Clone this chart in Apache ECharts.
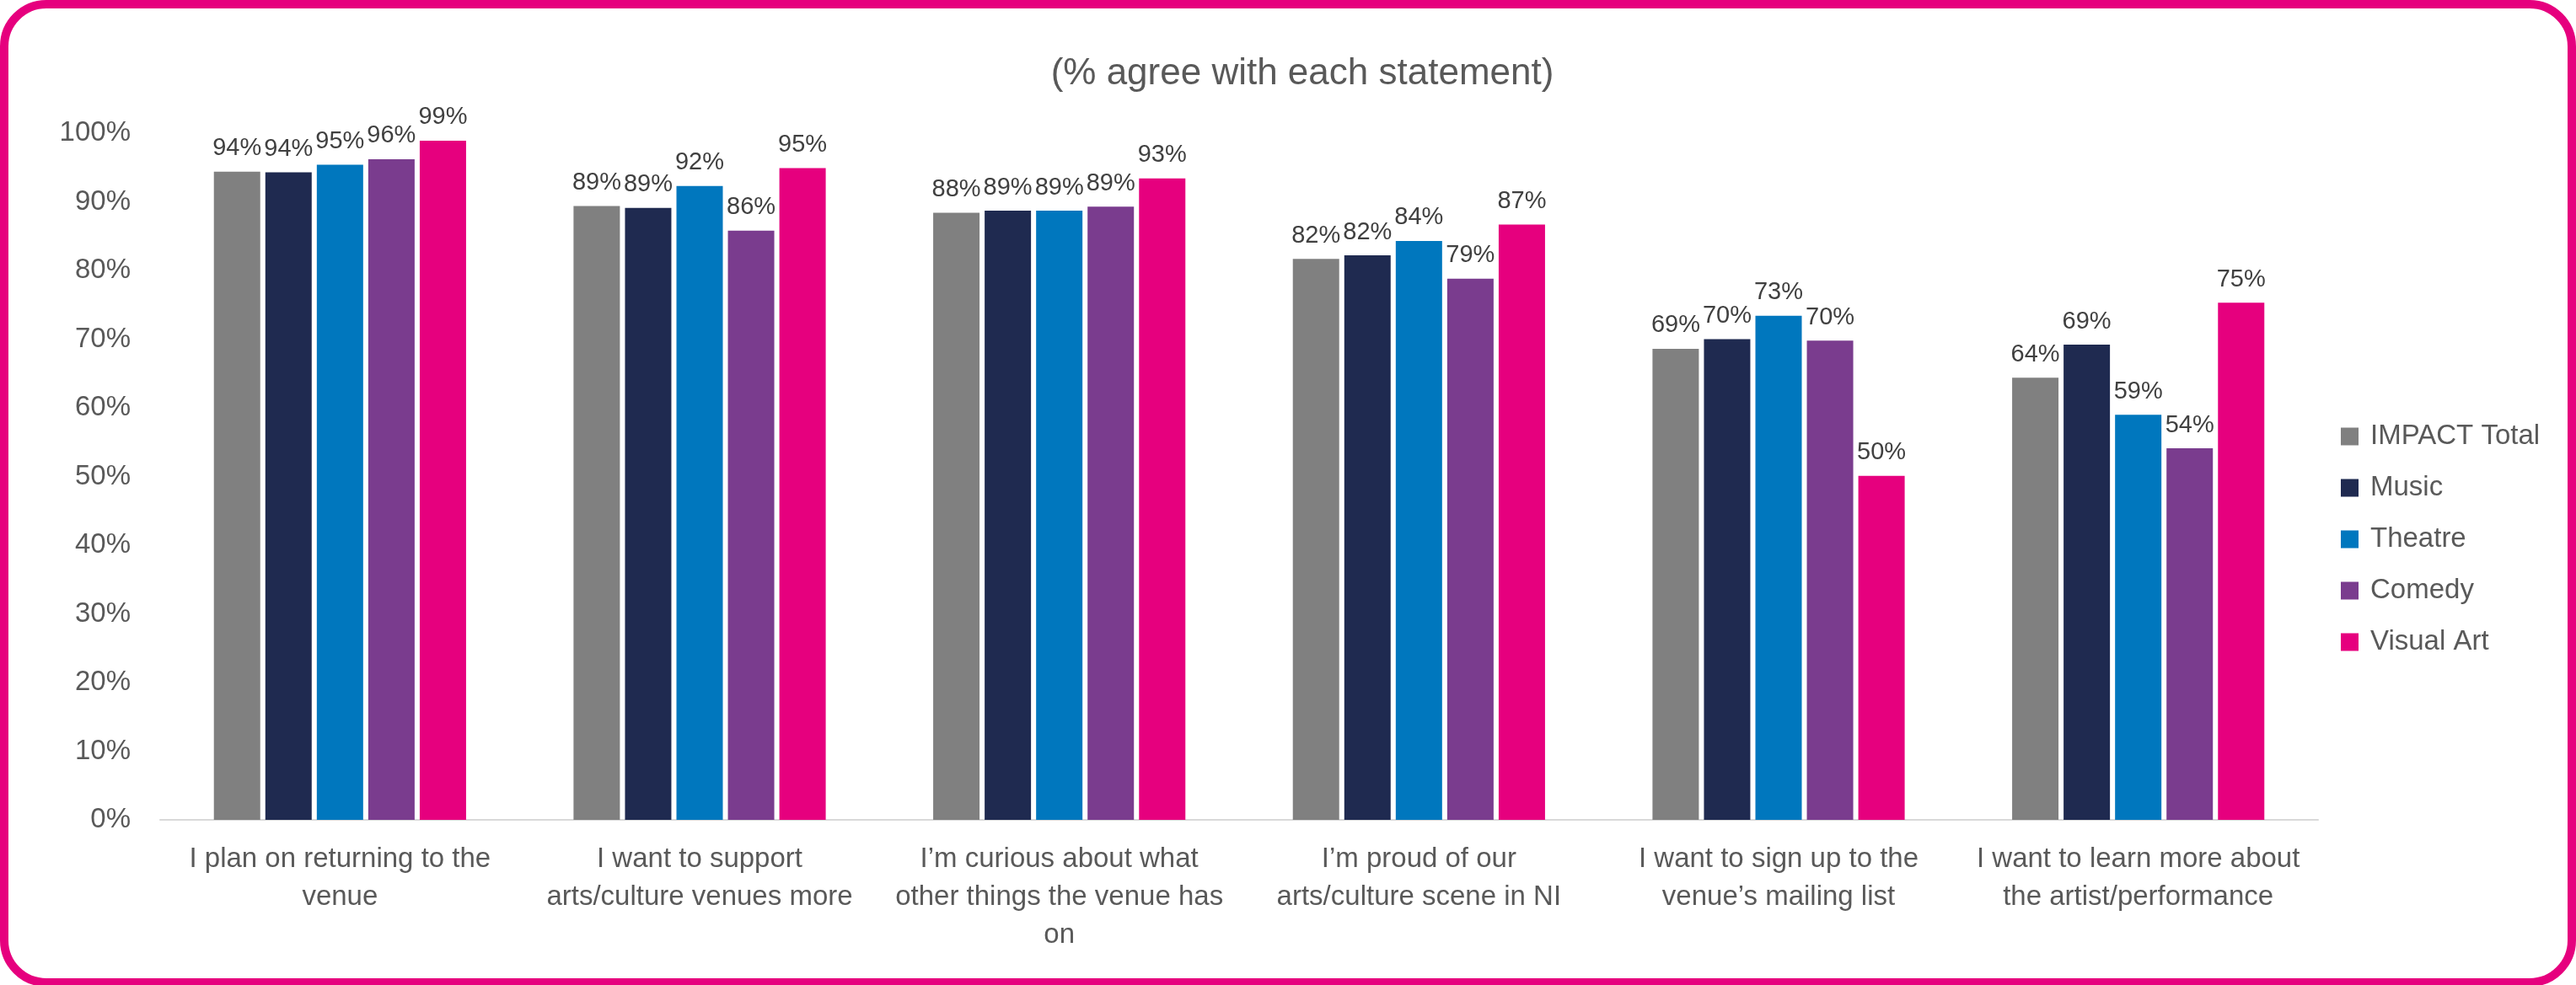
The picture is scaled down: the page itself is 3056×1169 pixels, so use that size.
<!DOCTYPE html>
<html>
<head>
<meta charset="utf-8">
<script src="https://cdn.jsdelivr.net/npm/echarts@6/dist/echarts.min.js"></script>
<style>
html,body{margin:0;padding:0;background:#fff;}
#chart{width:3056px;height:1169px;}
</style>
</head>
<body>
<div id="chart"></div>
<script>
const titleText = '(% agree with each statement)';
const categories = [
  'I plan on returning to the\nvenue',
  'I want to support\narts/culture venues more',
  'I\u2019m curious about what\nother things the venue has\non',
  'I\u2019m proud of our\narts/culture scene in NI',
  'I want to sign up to the\nvenue\u2019s mailing list',
  'I want to learn more about\nthe artist/performance'
];
const seriesNames = ['IMPACT Total', 'Music', 'Theatre', 'Comedy', 'Visual Art'];
const impactTotal = [94.4, 89.4, 88.4, 81.7, 68.6, 64.4];
const music       = [94.3, 89.1, 88.7, 82.2, 70.0, 69.2];
const theatre     = [95.4, 92.3, 88.7, 84.3, 73.4, 59.0];
const comedy      = [96.2, 85.8, 89.3, 78.8, 69.8, 54.1];
const visualArt   = [98.9, 94.9, 93.4, 86.7, 50.1, 75.3];
const yMin = 0, yMax = 100, yStep = 10;

const seriesData = [impactTotal, music, theatre, comedy, visualArt];
const colors = ['#808080', '#1F2A50', '#0077BE', '#7A3C8E', '#E6007E'];
const FONT = "'Liberation Sans', Arial, sans-serif";

const chart = echarts.init(document.getElementById('chart'), null, {renderer: 'canvas'});
chart.setOption({
  backgroundColor: '#ffffff',
  animation: false,
  color: colors,
  title: {
    text: titleText,
    left: 1545,
    top: 66,
    padding: 0,
    textAlign: 'center',
    textStyle: {fontFamily: FONT, fontSize: 44, fontWeight: 'normal', color: '#595959'}
  },
  legend: {
    orient: 'vertical',
    left: 2772,
    top: 493,
    itemWidth: 21,
    itemHeight: 21,
    itemGap: 21,
    icon: 'rect',
    data: seriesNames,
    textStyle: {fontFamily: FONT, fontSize: 33, color: '#595959', lineHeight: 40, padding: [0, 0, 0, 9]}
  },
  grid: {left: 190, right: 306, top: 158, bottom: 196, containLabel: false},
  xAxis: {
    type: 'category',
    data: categories,
    axisLine: {show: true, lineStyle: {color: '#D9D9D9', width: 2}},
    axisTick: {show: false},
    axisLabel: {interval: 0, margin: 24, fontFamily: FONT, fontSize: 33, lineHeight: 45, color: '#595959'}
  },
  yAxis: {
    type: 'value',
    min: yMin, max: yMax, interval: yStep,
    axisLine: {show: false},
    axisTick: {show: false},
    splitLine: {show: false},
    axisLabel: {formatter: '{value}%', margin: 35, fontFamily: FONT, fontSize: 33, color: '#595959'}
  },
  series: seriesNames.map((name, i) => ({
    name: name,
    type: 'bar',
    data: seriesData[i],
    barWidth: 55,
    barGap: '11%',
    itemStyle: {color: colors[i]},
    label: {
      show: true,
      position: 'top',
      distance: 13,
      fontFamily: FONT,
      fontSize: 29,
      color: '#404040',
      formatter: p => Math.round(p.value) + '%'
    }
  })),
  graphic: [{
    type: 'rect',
    shape: {x: 5, y: 5, width: 3046, height: 1161, r: 50},
    style: {fill: 'none', stroke: '#E6007E', lineWidth: 10},
    silent: true
  }]
});
</script>
</body>
</html>
